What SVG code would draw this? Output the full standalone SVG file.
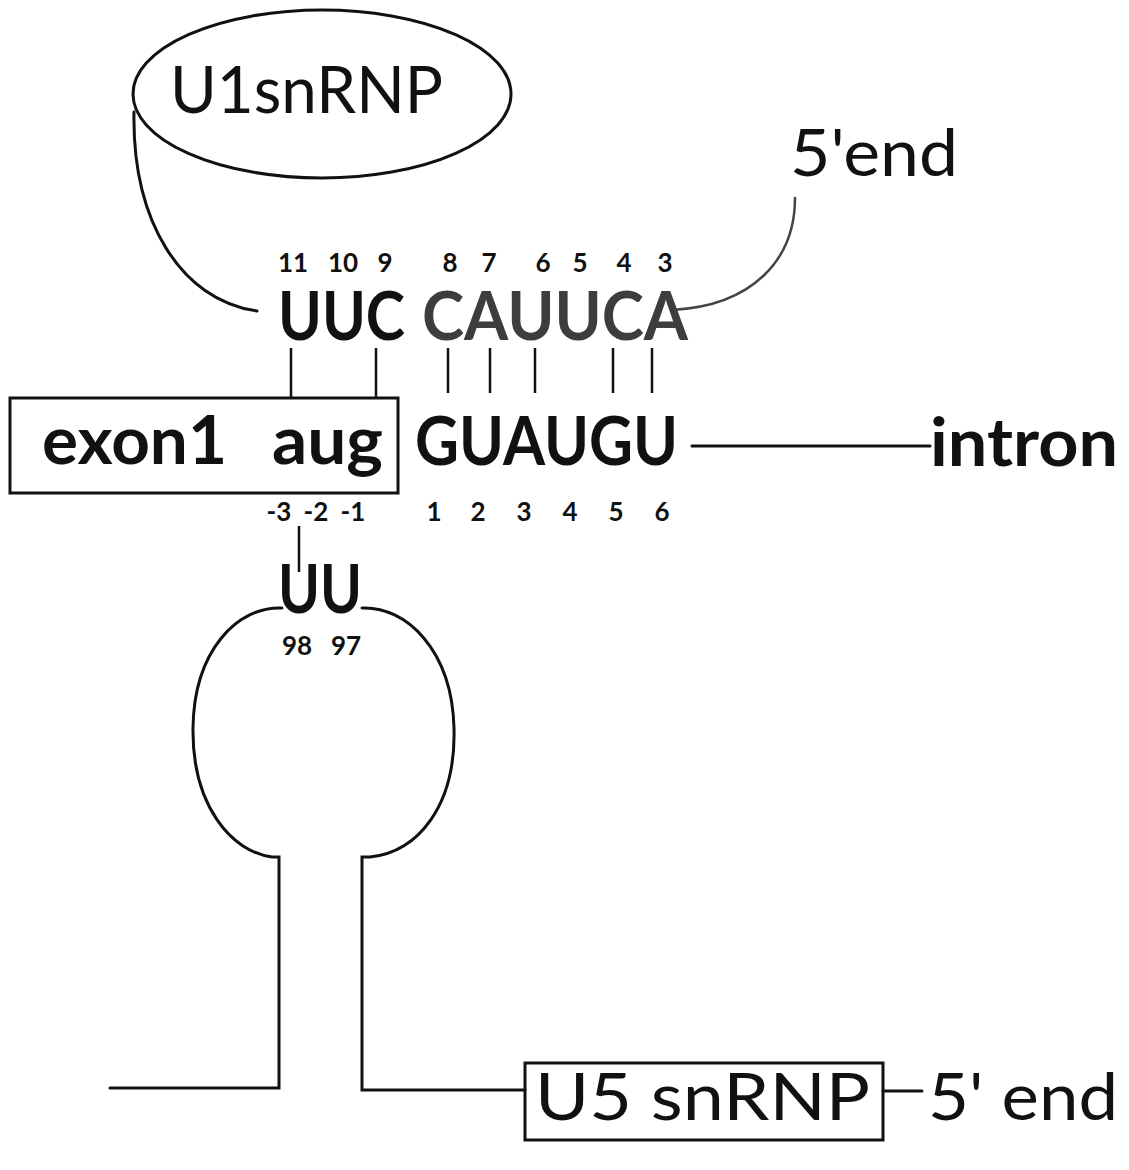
<svg xmlns="http://www.w3.org/2000/svg" width="1129" height="1170" viewBox="0 0 1129 1170">
  <style>
    .ln { fill: none; stroke: #111; stroke-width: 3; stroke-linecap: round; }
    .gl { fill: none; stroke: #444; stroke-width: 2.5; stroke-linecap: round; }
    .tick { stroke: #111; stroke-width: 2.5; }
    .big { font-family: Lato, "Liberation Sans", sans-serif; font-size: 66px; fill: #111; }
    .bold { font-weight: 700; }
    .num { font-family: Lato, "Liberation Sans", sans-serif; font-size: 26px; font-weight: 700; fill: #111; text-anchor: middle; }
  </style>
  <rect width="1129" height="1170" fill="#fff"/>

  <!-- connectors -->
  <g id="connectors">
    <!-- U1 snRNP tether down to UUC -->
    <path class="ln" d="M 134 112 C 132 220, 180 300, 257 311"/>
    <!-- 5' end of U1 RNA -->
    <path class="gl" d="M 795 198 C 795 260, 752 306, 672 310"/>
    <!-- base pairs U1 : 5' splice site -->
    <line class="tick" x1="291" y1="348" x2="291" y2="398"/>
    <line class="tick" x1="376" y1="348" x2="376" y2="398"/>
    <line class="tick" x1="448" y1="348" x2="448" y2="393"/>
    <line class="tick" x1="490" y1="348" x2="490" y2="393"/>
    <line class="tick" x1="535" y1="348" x2="535" y2="393"/>
    <line class="tick" x1="613" y1="348" x2="613" y2="393"/>
    <line class="tick" x1="652" y1="348" x2="652" y2="393"/>
    <!-- intron tail -->
    <line class="ln" x1="692" y1="446" x2="930" y2="446"/>
    <!-- -3 : U98 pair -->
    <line class="tick" x1="299" y1="526" x2="299" y2="572"/>
    <!-- U5 stem-loop -->
    <path class="ln" d="M 282 608 C 238 606, 194 650, 193 728 C 192 806, 232 852, 272 857 H 279 V 1088 H 110"/>
    <path class="ln" d="M 362 608 C 406 606, 452 650, 454 728 C 456 806, 418 852, 370 857 H 362 V 1090 H 525"/>
    <line class="ln" x1="883" y1="1091" x2="922" y2="1091"/>
  </g>

  <!-- U1 snRNP -->
  <g id="u1snrnp">
    <ellipse cx="322" cy="94" rx="189" ry="84" fill="none" stroke="#111" stroke-width="3"/>
    <text class="big" x="170" y="113" textLength="273" lengthAdjust="spacingAndGlyphs" font-size="68">U1snRNP</text>
  </g>

  <g id="u1-5end">
    <text class="big" x="790" y="176" textLength="168" lengthAdjust="spacingAndGlyphs">5'end</text>
  </g>

  <!-- U1 RNA sequence -->
  <g id="u1-seq">
    <text class="num" x="293" y="272">11</text>
    <text class="num" x="343" y="272">10</text>
    <text class="num" x="385" y="272">9</text>
    <text class="num" x="450" y="272">8</text>
    <text class="num" x="489" y="272">7</text>
    <text class="num" x="543" y="272">6</text>
    <text class="num" x="580" y="272">5</text>
    <text class="num" x="624" y="272">4</text>
    <text class="num" x="665" y="272">3</text>
    <text class="big bold" x="278" y="340" textLength="127" lengthAdjust="spacingAndGlyphs">UUC</text>
    <text class="big" x="422" y="340" textLength="266" lengthAdjust="spacingAndGlyphs" style="fill:#3d3d3d;font-weight:700">CAUUCA</text>
  </g>

  <!-- exon 1 -->
  <g id="exon1">
    <rect x="10" y="398" width="388" height="95" fill="none" stroke="#111" stroke-width="3"/>
    <text class="big bold" x="42" y="464" font-size="68" textLength="185" lengthAdjust="spacingAndGlyphs">exon1</text>
    <text class="big bold" x="272" y="464" font-size="68" textLength="111" lengthAdjust="spacingAndGlyphs">aug</text>
  </g>

  <!-- 5' splice site -->
  <g id="splice-site">
    <text class="big bold" x="415" y="465" font-size="68" textLength="263" lengthAdjust="spacingAndGlyphs">GUAUGU</text>
    <text class="num" x="279" y="521">-3</text>
    <text class="num" x="316" y="521">-2</text>
    <text class="num" x="353" y="521">-1</text>
    <text class="num" x="434" y="521">1</text>
    <text class="num" x="478" y="521">2</text>
    <text class="num" x="524" y="521">3</text>
    <text class="num" x="570" y="521">4</text>
    <text class="num" x="616" y="521">5</text>
    <text class="num" x="662" y="521">6</text>
  </g>

  <g id="intron">
    <text class="big bold" x="930" y="466" textLength="188" lengthAdjust="spacingAndGlyphs">intron</text>
  </g>

  <!-- U5 loop -->
  <g id="u5-loop">
    <text class="big bold" x="278" y="613" font-size="68" textLength="84" lengthAdjust="spacingAndGlyphs">UU</text>
    <text class="num" x="297" y="655">98</text>
    <text class="num" x="346" y="655">97</text>
  </g>

  <!-- U5 snRNP -->
  <g id="u5snrnp">
    <rect x="525" y="1063" width="358" height="77" fill="none" stroke="#111" stroke-width="3"/>
    <text class="big" x="535" y="1120" textLength="335" lengthAdjust="spacingAndGlyphs">U5 snRNP</text>
  </g>

  <g id="u5-5end">
    <text class="big" x="928" y="1120" textLength="190" lengthAdjust="spacingAndGlyphs">5' end</text>
  </g>
</svg>
